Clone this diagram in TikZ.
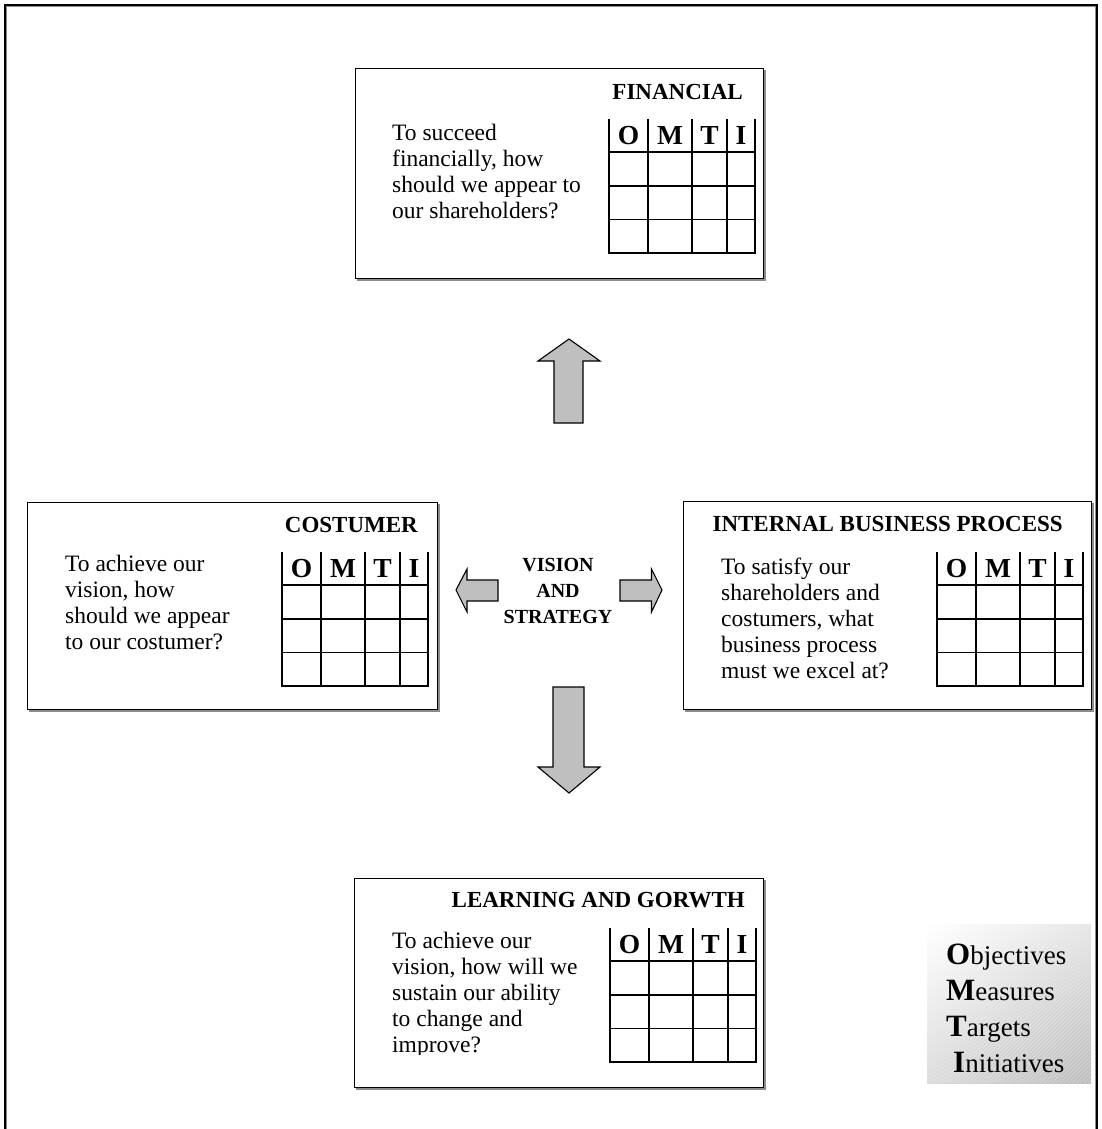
\documentclass[tikz,border=0pt]{standalone}
\usepackage{fontspec}
\setmainfont{Liberation Serif}
\usetikzlibrary{shadings}
\newcommand{\omtigrid}[3]{%
  \begin{scope}[shift={(#2,#3)}]
    \draw[gridline] (0,0) -- (0,134) -- (146,134) -- (146,0);
    \draw[gridline] (39,0) -- (39,134) (83,0) -- (83,134) (118,0) -- (118,134);
    \draw[gridline] (0,33) -- (146,33) (0,67) -- (146,67) (0,100.5) -- (146,100.5);
    \node[hdr] (#1O) at (19.5,25) {O};
    \node[hdr] (#1M) at (61,25) {M};
    \node[hdr] (#1T) at (100.5,25) {T};
    \node[hdr] (#1I) at (132,25) {I};
  \end{scope}}
\begin{document}
\begin{tikzpicture}[x=1pt,y=-1pt,
  box/.style={draw=black, line width=1.3pt, fill=white, anchor=north west, inner sep=0pt},
  boxshadow/.style={draw=black!45, line width=1.2pt},
  ttl/.style={font=\fontsize{23}{27}\selectfont\bfseries, anchor=base east, inner sep=0pt},
  qtext/.style={font=\fontsize{23.5}{26}\selectfont, align=left, anchor=north west, inner sep=0pt},
  hdr/.style={font=\fontsize{27.5}{30}\selectfont\bfseries, anchor=base, inner sep=0pt},
  gridline/.style={line width=1.3pt},
  blockarrow/.style={draw=black, line width=1.1pt, fill=black!25, line join=miter},
  frame/.style={line width=1.6pt, draw=black},
  leg/.style={font=\fontsize{27}{30}\selectfont, anchor=base west, inner sep=0pt}
]
\useasboundingbox (0,0) rectangle (1102,1129);
% outer frame (open at the bottom)
\draw[boxshadow] (6.5,1129) -- (6.5,6.5) -- (1095.5,6.5) -- (1095.5,1129);
\draw[frame] (5,1129) -- (5,5) -- (1097,5) -- (1097,1129);

% ---------------- FINANCIAL
\draw[boxshadow] (765,70) -- (765,280) -- (357,280);
\node[box, minimum width=408pt, minimum height=210pt] (fin) at (355,68) {};
\node[ttl] (fint) at (743,100) {FINANCIAL};
\node[qtext] (finq) at (392,123.5) {To succeed\\financially, how\\should we appear to\\our shareholders?};
\omtigrid{f}{609}{119}

% ---------------- COSTUMER
\draw[boxshadow] (439,504) -- (439,711) -- (29,711);
\node[box, minimum width=410pt, minimum height=207pt] (cus) at (27,502) {};
\node[ttl] (cust) at (418,532.5) {COSTUMER};
\node[qtext] (cusq) at (65,555) {To achieve our\\vision, how\\should we appear\\to our costumer?};
\omtigrid{c}{282}{552}

% ---------------- INTERNAL BUSINESS PROCESS
\draw[boxshadow] (1093,503) -- (1093,711) -- (685,711);
\node[box, minimum width=408pt, minimum height=208pt] (ibp) at (683,501) {};
\node[ttl] (ibpt) at (1063,531) {INTERNAL BUSINESS PROCESS};
\begin{scope}
  \clip (712,545) rectangle (932,679.5);
  \node[qtext] (ibpq) at (721,557.5) {To satisfy our\\shareholders and\\costumers, what\\business process\\must we excel at?};
\end{scope}
\omtigrid{i}{937}{552}

% ---------------- LEARNING AND GORWTH
\draw[boxshadow] (765,880) -- (765,1089) -- (356,1089);
\node[box, minimum width=409pt, minimum height=209pt] (lag) at (354,878) {};
\node[ttl] (lagt) at (745,907.5) {LEARNING AND GORWTH};
\begin{scope}
  \clip (385,920) rectangle (605,1054);
  \node[qtext] (lagq) at (392,932) {To achieve our\\vision, how will we\\sustain our ability\\to change and\\improve?};
\end{scope}
\omtigrid{l}{610}{928}

% ---------------- VISION AND STRATEGY
\node[font=\fontsize{20}{26}\selectfont\bfseries, align=center, anchor=north, inner sep=0pt] (vs) at (558,558.3) {VISION\\AND\\STRATEGY};

% ---------------- block arrows
\draw[blockarrow] (554,423) -- (554,361) -- (538,361) -- (569,339) -- (600,361) -- (583,361) -- (583,423) -- cycle;
\draw[blockarrow] (553,687) -- (553,767) -- (538,767) -- (569,793) -- (600,767) -- (584,767) -- (584,687) -- cycle;
\draw[blockarrow] (498,580) -- (467,580) -- (467,569) -- (456,590) -- (467,612) -- (467,601) -- (498,601) -- cycle;
\draw[blockarrow] (620,580) -- (651.5,580) -- (651.5,569) -- (662,590) -- (651.5,612) -- (651.5,601) -- (620,601) -- cycle;

% ---------------- legend
\shade[upper left=white, upper right=black!10, lower left=black!14, lower right=black!26] (927,924) rectangle (1091,1083);
\begin{scope}
  \clip (927,924) rectangle (1091,1083);
  \foreach \a in {768,772,...,1092} {
    \draw[white, opacity=0.35, line width=0.6pt] (\a,1083) -- ++(159,-159);
  }
\end{scope}
\node[leg] (lo) at (946,964) {{\fontsize{31}{31}\selectfont\bfseries O}bjectives};
\node[leg] (lm) at (946,1000) {{\fontsize{31}{31}\selectfont\bfseries M}easures};
\node[leg] (lt) at (946,1036) {{\fontsize{31}{31}\selectfont\bfseries T}argets};
\node[leg] (li) at (953,1072) {{\fontsize{31}{31}\selectfont\bfseries I}nitiatives};
\end{tikzpicture}
\end{document}
